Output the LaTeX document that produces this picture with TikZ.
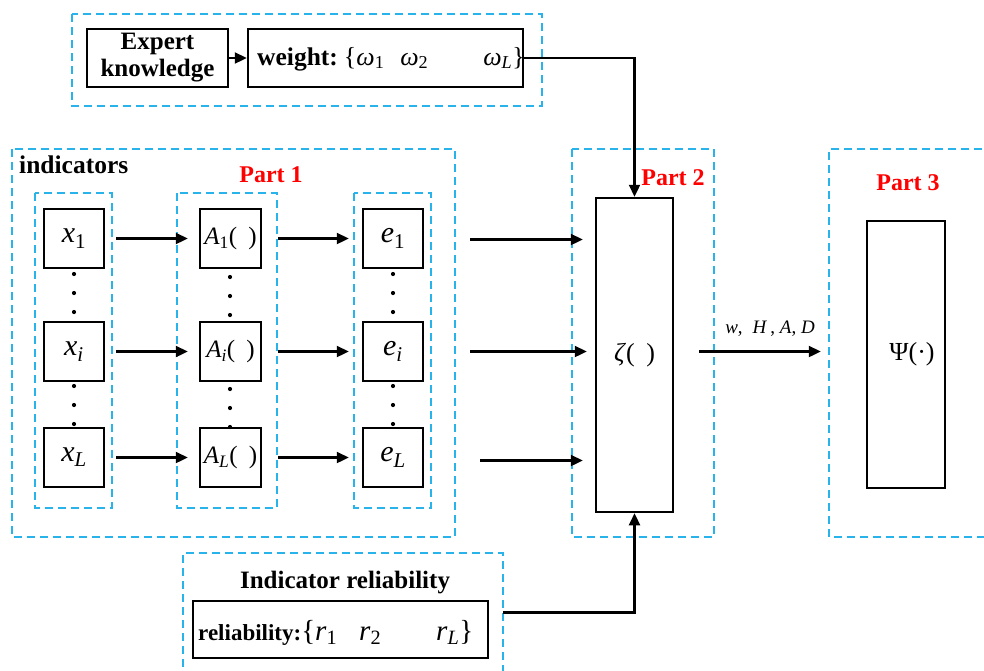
\documentclass[tikz,border=0pt]{standalone}
\usepackage{fontspec}
\setmainfont{Liberation Serif}
\usetikzlibrary{arrows.meta}
\definecolor{dashblue}{RGB}{40,180,235}
\definecolor{partred}{RGB}{255,0,0}
\newcommand{\fs}[1]{\fontsize{#1}{#1}\selectfont}
\newcommand{\mv}[2]{\textit{#1}\textsubscript{#2}}
\begin{document}
\begin{tikzpicture}[x=1pt,y=-1pt,
 dbox/.style={draw=dashblue, line width=1.6pt, dash pattern=on 8pt off 5pt},
 blk/.style={draw=black, line width=2.5pt, inner sep=0pt},
 sq/.style={blk, minimum width=60pt, minimum height=59pt},
 arr/.style={line width=2.3pt, -{Triangle[length=12pt,width=11pt]}},
 bold/.style={font=\bfseries\fs{25.5}},
 part/.style={font=\bfseries\fs{24}, text=partred, anchor=base, inner sep=0pt},
]
\useasboundingbox (0,0) rectangle (984,670);
% dashed group boxes
\draw[dbox] (72,14) rectangle (542,106);
\draw[dbox] (12,149) rectangle (455,537);
\draw[dbox] (35,193) rectangle (112,508);
\draw[dbox] (177,193) rectangle (277,508);
\draw[dbox] (354,193) rectangle (431,508);
\draw[dbox] (572,149) rectangle (714,537);
\draw[dbox] (995,149) -- (829,149) -- (829,537) -- (995,537);
\draw[dbox] (183,680) -- (183,553) -- (503,553) -- (503,680);

% top row
\node[blk, minimum width=141pt, minimum height=58pt, align=center,
      font=\bfseries\fontsize{25}{27}\selectfont] (exp) at (157.5,58) {Expert\\knowledge};
\node[blk, minimum width=275pt, minimum height=58pt] (wt) at (385.5,58) {};
\node[anchor=base west, inner sep=0pt] (wtxt) at (257,65)
  {\bfseries\fs{25.5}weight:\mdseries\fs{26}\hspace{6pt}\{\mv{ω}{1}\hspace{16pt}\mv{ω}{2}\hspace{55pt}\mv{ω}{\textit{L}}\}};
\draw[arr] (exp) -- (wt);

% labels
\node[anchor=base west, inner sep=0pt, bold] (ind) at (19,173) {indicators};
\node[part] (p1) at (271,182) {Part 1};
\node[part] (p2) at (673,185) {Part 2};
\node[part] (p3) at (908,190) {Part 3};

% columns
\node[sq, font=\fs{30}] (x1) at (74,238.5) {\mv{x}{1}};
\node[sq, font=\fs{30}] (xi) at (74,351.5) {\mv{x}{\textit{i}}};
\node[sq, font=\fs{30}] (xL) at (74,457.5) {\mv{x}{\textit{L}}};
\node[sq, minimum width=61pt, font=\fs{25}] (A1) at (230.5,238.5) {\mv{A}{1}(\;\,)};
\node[sq, minimum width=61pt, font=\fs{25}] (Ai) at (230.5,351.5) {\mv{A}{\textit{i}}(\;\,)};
\node[sq, minimum width=61pt, font=\fs{25}] (AL) at (230.5,457.5) {\mv{A}{\textit{L}}(\;\,)};
\node[sq, font=\fs{30}] (e1) at (393,238.5) {\mv{e}{1}};
\node[sq, font=\fs{30}] (ei) at (393,351.5) {\mv{e}{\textit{i}}};
\node[sq, font=\fs{30}] (eL) at (393,457.5) {\mv{e}{\textit{L}}};

% dots
\foreach \cx/\oy in {74/0, 230/3, 393/0}{
  \foreach \cy in {274,293,312,386,405,424}{
    \fill (\cx,\cy+\oy) circle (2.1);
  }
}

% Part 2 / Part 3 boxes
\node[blk, minimum width=77pt, minimum height=314pt, font=\fs{26}] (zeta) at (634.5,355) {\textit{ζ}(\;\,)};
\node[blk, minimum width=78pt, minimum height=267pt, font=\fs{26}] (psi) at (906,354.5) {\hspace*{12pt}Ψ(·)};

% reliability
\node[anchor=base, inner sep=0pt, font=\bfseries\fs{25}] (relt) at (345,588) {Indicator reliability};
\node[blk, minimum width=295pt, minimum height=57pt] (rel) at (340.5,629.5) {};
\node[anchor=base west, inner sep=0pt] (reltxt) at (198,640)
  {\bfseries\fs{23}reliability:\mdseries\fs{29}\{\mv{r}{1}\hspace{22pt}\mv{r}{2}\hspace{55pt}\mv{r}{\textit{L}}\}};

% arrows in Part 1
\draw[arr, shorten <=11pt, shorten >=11pt] (x1) -- (A1);
\draw[arr, shorten <=11pt, shorten >=11pt] (xi) -- (Ai);
\draw[arr, shorten <=11pt, shorten >=11pt] (xL) -- (AL);
\draw[arr, shorten <=16pt, shorten >=13pt] (A1) -- (e1);
\draw[arr, shorten <=16pt, shorten >=13pt] (Ai) -- (ei);
\draw[arr, shorten <=16pt, shorten >=13pt] (AL) -- (eL);

% arrows into zeta
\coordinate (s1) at (470,239.5);
\coordinate (s2) at (470,351.5);
\coordinate (s3) at (480,460.5);
\draw[arr, shorten >=12pt] (s1) -- (s1 -| zeta.west);
\draw[arr, shorten >=8pt] (s2) -- (s2 -| zeta.west);
\draw[arr, shorten >=12pt] (s3) -- (s3 -| zeta.west);
\draw[arr] (wt.east) -| (zeta.north);
\coordinate (rs) at (503,612.5);
\draw[arr] (rs) -| (zeta.south);

% output arrow
\draw[arr] ([xshift=25pt,yshift=3.5pt]zeta.east) -- ([xshift=-45pt,yshift=3pt]psi.west);
\node[anchor=base, inner sep=0pt, font=\fs{19}] (lab) at (770,333) {\textit{w},\; \textit{H}\,, \textit{A}, \textit{D}};
\end{tikzpicture}
\end{document}
